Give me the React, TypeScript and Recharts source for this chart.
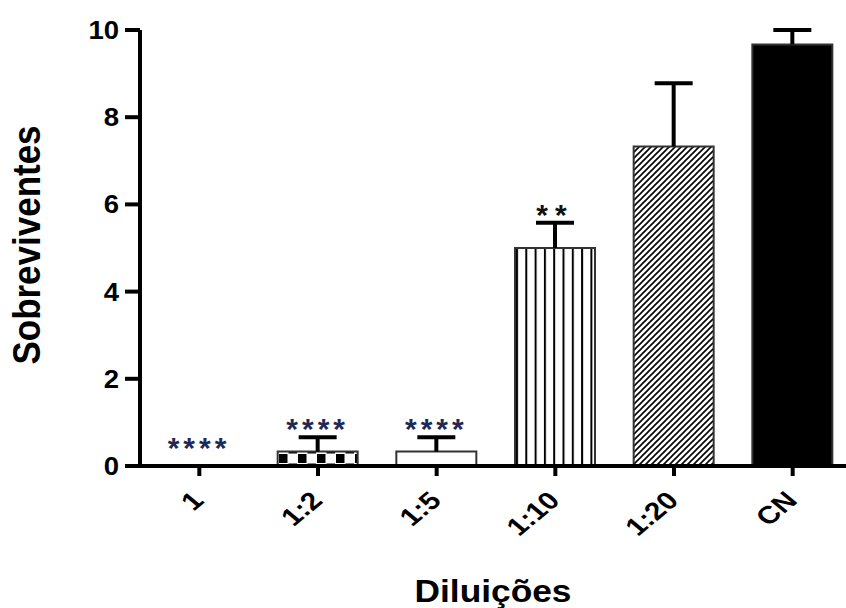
import React from "react";
import {ComposedChart, Bar, XAxis, YAxis, Cell, LabelList, Label} from "recharts";

const categories = ["1", "1:2", "1:5", "1:10", "1:20", "CN"];
const means = [0, 0.33, 0.33, 5.0, 7.33, 9.67];
const errors = [0, 0.33, 0.33, 0.58, 1.45, 0.33];
const sigLabels = ["****", "****", "****", "**", "", ""];
const yTicks = [0, 2, 4, 6, 8, 10];

const fills = ["#fff", "url(#checker)", "#fff", "url(#vlines)", "url(#diag)", "#000"];

const data = categories.map((name, i) => ({
    name,
    mean: means[i],
    err: errors[i],
    sig: sigLabels[i]
}));

const FONT = "'Liberation Sans', Arial, sans-serif";

// upper half of the error bar, drawn on the stacked segment
function ErrShape(props: any) {
    const {x, y, width, height} = props;
    if (!height || height <= 0) return null;
    const cx = x + width / 2;
    return (
        <g>
            <line x1={cx} y1={y} x2={cx} y2={y + height} stroke="#000" strokeWidth={4}/>
            <line x1={cx - 19} y1={y} x2={cx + 19} y2={y} stroke="#000" strokeWidth={4}/>
        </g>
    );
}

function StarLabel(props: any) {
    const {x, y, width, height, value} = props;
    if (!value) return null;
    const off = height > 0 ? 15 : 25;
    const cy = y - off;
    const dark = value === "**";
    return (
        <text x={x + width / 2} y={cy + 17} textAnchor="middle" fontFamily={FONT} fontWeight="bold"
              fontSize={30} letterSpacing={dark ? 7 : 4} fill={dark ? "#111" : "#1e2a55"}>
            {value}
        </text>
    );
}

function XTick({x, y, payload}: any) {
    return (
        <text transform={`translate(${x + 6},${y + 24}) scale(1.15,0.95) rotate(-45)`} textAnchor="end"
              fontFamily={FONT} fontWeight="bold" fontSize={26} fill="#000">
            {payload.value}
        </text>
    );
}

function YTick({x, y, payload}: any) {
    return (
        <text transform={`translate(${x},${y}) scale(1.1,1)`} textAnchor="end" dy="0.36em"
              fontFamily={FONT} fontWeight="bold" fontSize={25} fill="#000">
            {payload.value}
        </text>
    );
}

export default function App() {
    return (
        <div style={{position: "absolute", left: 0, top: 0, width: 846, height: 608, overflow: "hidden", background: "#fff"}}>
            <ComposedChart width={858} height={608} data={data}
                           margin={{top: 30, right: 6, bottom: 0, left: 0}}>
                <defs>
                    <pattern id="checker" patternUnits="userSpaceOnUse" x={279} y={454} width={19} height={19}>
                        <rect x={0} y={0} width={8.5} height={9} fill="#000"/>
                        <rect x={9.5} y={9.5} width={8.5} height={9} fill="#000"/>
                    </pattern>
                    <pattern id="vlines" patternUnits="userSpaceOnUse" x={516} y={0} width={9.3} height={10}>
                        <rect x={0} y={0} width={9.3} height={10} fill="#fff"/>
                        <rect x={0} y={0} width={2} height={10} fill="#000"/>
                    </pattern>
                    <pattern id="diag" patternUnits="userSpaceOnUse" width={6} height={6}>
                        <rect x={0} y={0} width={6} height={6} fill="#fff"/>
                        <path d="M0,6 L6,0 M-1,1 L1,-1 M5,7 L7,5" stroke="#000" strokeWidth={1.6}/>
                    </pattern>
                </defs>
                <XAxis dataKey="name" height={142} tickSize={10}
                       axisLine={{stroke: "#000", strokeWidth: 4}}
                       tickLine={{stroke: "#000", strokeWidth: 4}}
                       tick={<XTick/>} interval={0}>
                    <Label content={({viewBox}: any) => (
                        <text x={viewBox.x + viewBox.width / 2 - 3} y={viewBox.y + 136} textAnchor="middle"
                              textLength={157} lengthAdjust="spacingAndGlyphs"
                              fontFamily={FONT} fontWeight="bold" fontSize={32} fill="#000">Diluições</text>
                    )}/>
                </XAxis>
                <YAxis width={140} domain={[0, 10]} ticks={yTicks} tickSize={15} tickMargin={6}
                       axisLine={{stroke: "#000", strokeWidth: 4}}
                       tickLine={{stroke: "#000", strokeWidth: 4}}
                       tick={<YTick/>}>
                    <Label content={({viewBox}: any) => {
                        const cx = viewBox.x + 40;
                        const cy = viewBox.y + viewBox.height / 2 - 3;
                        return (
                            <text transform={`translate(${cx},${cy}) scale(1.12,1) rotate(-90)`} textAnchor="middle"
                                  fontFamily={FONT} fontWeight="bold" fontSize={35} fill="#000">Sobreviventes</text>
                        );
                    }}/>
                </YAxis>
                <Bar dataKey="mean" stackId="a" barSize={80} stroke="#333" strokeWidth={2}
                     isAnimationActive={false}>
                    {data.map((d, i) => <Cell key={d.name} fill={fills[i]}/>)}
                </Bar>
                <Bar dataKey="err" stackId="a" barSize={80} shape={<ErrShape/>} isAnimationActive={false}>
                    <LabelList dataKey="sig" content={<StarLabel/>}/>
                </Bar>
            </ComposedChart>
        </div>
    );
}
